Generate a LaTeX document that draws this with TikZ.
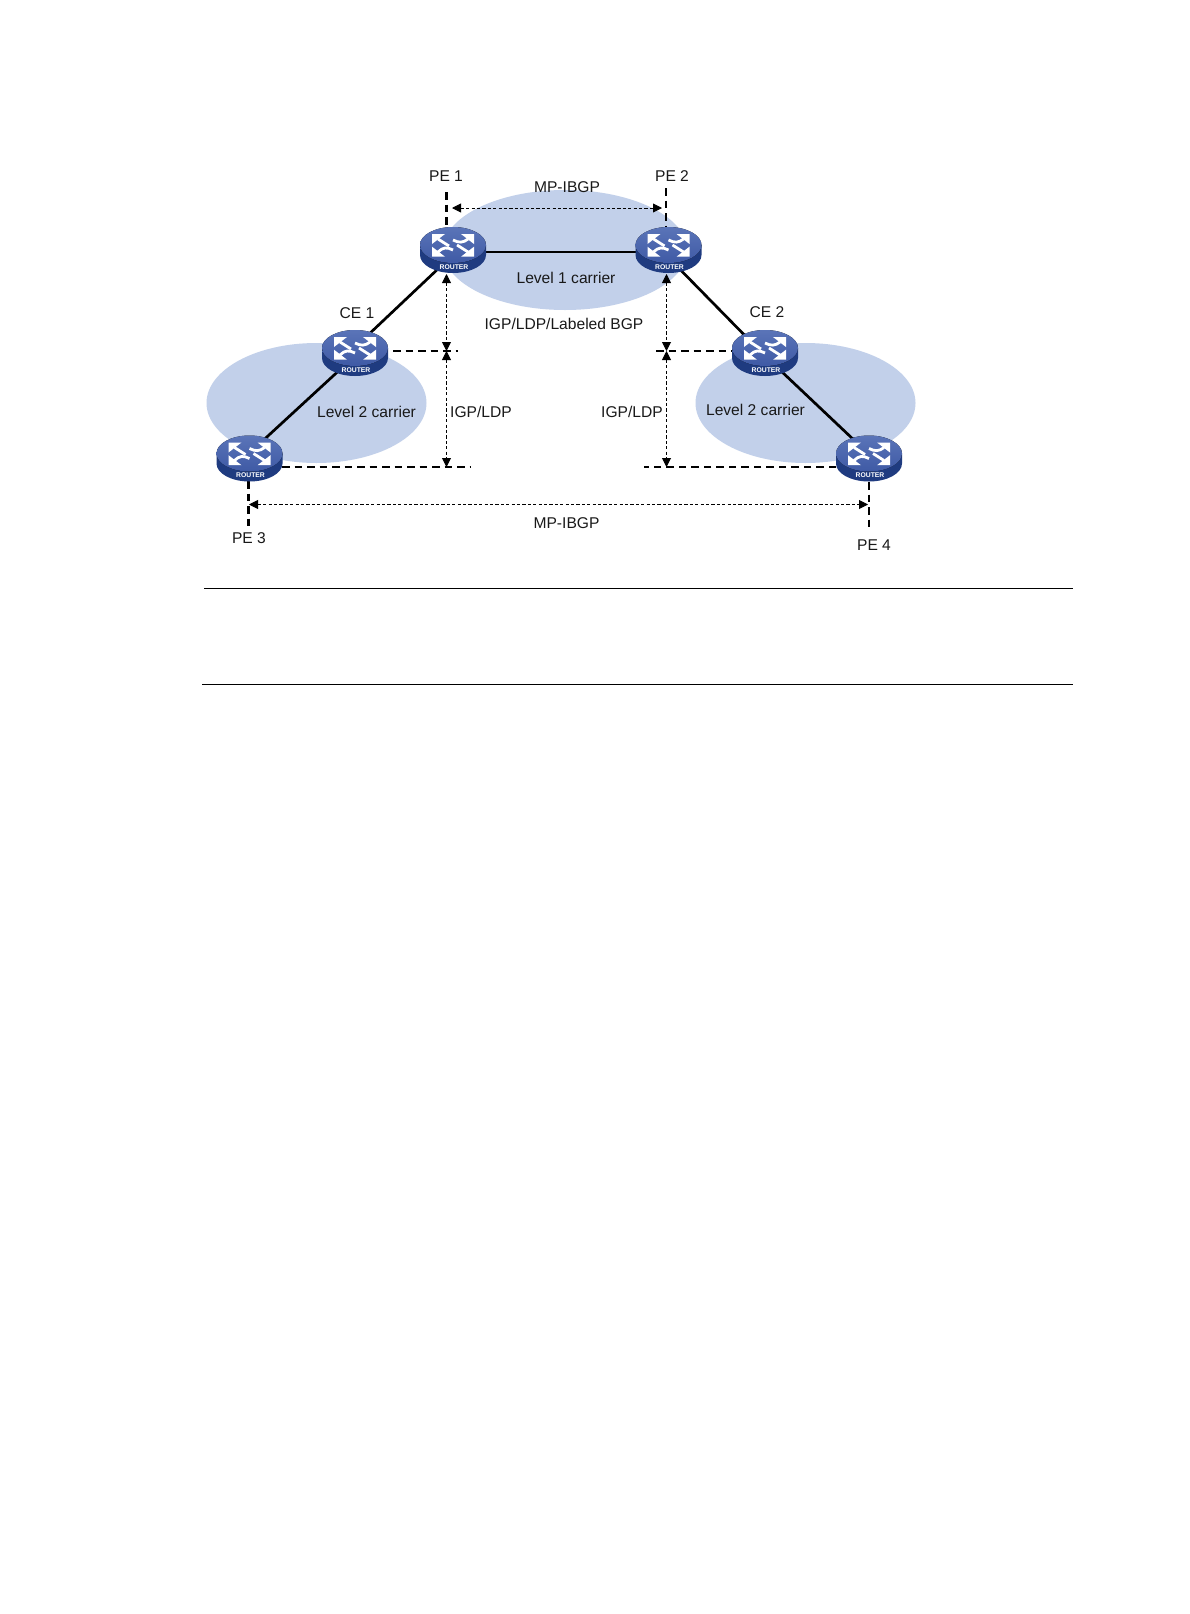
\documentclass[tikz,border=0pt]{standalone}
\usepackage{fontspec}
\setmainfont{Liberation Sans}
\usetikzlibrary{arrows.meta}
\definecolor{carrier}{HTML}{C2D0EA}
\definecolor{rdark}{HTML}{1F3B80}
\definecolor{rtop}{HTML}{3F5AA5}
\definecolor{rtopl}{HTML}{5A74B8}
\tikzset{x=1pt,y=-1pt,
 carrierarea/.style={fill=carrier,draw=none},
 anchorbox/.style={inner sep=0pt,minimum width=66pt,minimum height=46pt},
 lab/.style={inner sep=0pt,font=\fontsize{15.6}{18}\selectfont,text=black!90},
 link/.style={line width=2.7pt,black},
 bound/.style={line width=2.4pt,black,dash pattern=on 7.5pt off 5pt},
 session/.style={line width=0.9pt,black,dash pattern=on 3.2pt off 2.2pt,{Triangle[length=9pt,width=9pt]}-{Triangle[length=9pt,width=9pt]}},
 rule/.style={line width=0.9pt,black},
 glyphtail/.style={white,line width=2.8pt},
 router/.pic={
  \fill[rdark] (-33,-5) -- (-33,5) arc[start angle=180,end angle=0,x radius=33,y radius=18] -- (33,-5) -- cycle;
  \fill[top color=rtopl,bottom color=rtop,draw=none] (0,-5) ellipse[x radius=33,y radius=18];
  \fill[white] (-21,-16) -- (-8,-16) -- (-21,-6) -- cycle;
  \fill[white] (21,-16) -- (8,-16) -- (21,-6) -- cycle;
  \fill[white] (-21,6.7) -- (-8,6.7) -- (-21,-3.3) -- cycle;
  \fill[white] (21,6.7) -- (8,6.7) -- (21,-3.3) -- cycle;
  \draw[glyphtail] (-15,-11) -- (-4,-4);
  \draw[glyphtail] (15,2) -- (4,-5);
  \draw[glyphtail] (15,-11) .. controls (10,-7) and (6,-7) .. (0,-10);
  \draw[glyphtail] (-15,2) .. controls (-10,-3) and (-6,-3) .. (0,0);
  \node[inner sep=0pt,text=white,font=\fontsize{6.8}{7}\selectfont\bfseries] at (1,17) {ROUTER};
 }
}
\begin{document}
\begin{tikzpicture}
\useasboundingbox (0,0) rectangle (1190,1614);
\fill[white] (0,0) rectangle (1190,1614);
% carrier areas
\fill[carrierarea] (565,250) ellipse[x radius=122,y radius=60];
\fill[carrierarea] (316.5,403) ellipse[x radius=110,y radius=60];
\fill[carrierarea] (805.5,403) ellipse[x radius=110,y radius=60];
% router positions
\node[anchorbox] (pe1) at (453,250) {};
\node[anchorbox] (pe2) at (668.5,250) {};
\node[anchorbox] (ce1) at (355,353) {};
\node[anchorbox] (ce2) at (765,353) {};
\node[anchorbox] (pe3) at (249.5,458.5) {};
\node[anchorbox] (pe4) at (869,458.5) {};
% free ends
\coordinate (t1) at (446.5,192);
\coordinate (b1) at (446.5,227);
\coordinate (t2) at (666,188);
\coordinate (b2) at (666,228);
\coordinate (c1a) at (393,351);
\coordinate (c1b) at (458,351);
\coordinate (c2a) at (656,351);
\coordinate (c2b) at (732,351);
\coordinate (p3a) at (282,467);
\coordinate (p3b) at (470,467);
\coordinate (p4a) at (644,467);
\coordinate (p4b) at (836,467);
\coordinate (v3a) at (248.5,481);
\coordinate (v3b) at (248.5,527);
\coordinate (v4a) at (869,482);
\coordinate (v4b) at (869,527);
\coordinate (m1a) at (452,208);
\coordinate (m1b) at (662,208);
\coordinate (m2a) at (249,504.5);
\coordinate (m2b) at (868,504.5);
\coordinate (l1) at (446.5,274);
\coordinate (l2) at (446.5,351);
\coordinate (l3) at (446.5,467);
\coordinate (r1) at (666.5,274);
\coordinate (r2) at (666.5,351);
\coordinate (r3) at (666.5,467);
% links
\draw[link] ([yshift=-2pt]pe1.center) -- ([yshift=-2pt]pe2.center);
\draw[link] ([xshift=5pt]pe1.center) -- ([xshift=-6pt]ce1.center);
\draw[link] ([xshift=3pt]ce1.center) -- ([xshift=-6pt]pe3.center);
\draw[link] ([xshift=-7.5pt]pe2.center) -- ([xshift=-3pt]ce2.center);
\draw[link] ([xshift=-3pt]ce2.center) -- ([xshift=4.5pt]pe4.center);
% dashed boundaries
\draw[bound] (t1) -- (b1);
\draw[bound] (t2) -- (b2);
\draw[bound] (c1a) -- (c1b);
\draw[bound] (c2a) -- (c2b);
\draw[bound] (p3a) -- (p3b);
\draw[bound] (p4b) -- (p4a);
\draw[bound] (v3a) -- (v3b);
\draw[bound] (v4a) -- (v4b);
% sessions
\draw[session] (m1a) -- (m1b);
\draw[session] (m2a) -- (m2b);
\draw[session] (l1) -- (l2);
\draw[session] (l2) -- (l3);
\draw[session] (r1) -- (r2);
\draw[session] (r2) -- (r3);
% routers
\pic at (pe1) {router};
\pic at (pe2) {router};
\pic at (ce1) {router};
\pic at (ce2) {router};
\pic at (pe3) {router};
\pic at (pe4) {router};
% labels
\node[lab] (tpe1) at (446,176) {PE 1};
\node[lab] (tpe2) at (672,176) {PE 2};
\node[lab] (tm1) at (567,187) {MP-IBGP};
\node[lab] (tl1) at (566,278) {Level 1 carrier};
\node[lab] (tib) at (564,324) {IGP/LDP/Labeled BGP};
\node[lab] (tce1) at (357,313) {CE 1};
\node[lab] (tce2) at (767,312) {CE 2};
\node[lab] (tl2a) at (366.5,412) {Level 2 carrier};
\node[lab] (tl2b) at (755.5,410) {Level 2 carrier};
\node[lab] (til) at (481,412) {IGP/LDP};
\node[lab] (tir) at (632,412) {IGP/LDP};
\node[lab] (tpe3) at (249,538) {PE 3};
\node[lab] (tm2) at (566.5,523) {MP-IBGP};
\node[lab] (tpe4) at (874,545) {PE 4};
% rules
\coordinate (ra) at (204,588); \coordinate (rb) at (1073,588);
\coordinate (rc) at (202,684); \coordinate (rd) at (1073,684);
\draw[rule] (ra) -- (rb);
\draw[rule] (rc) -- (rd);
\end{tikzpicture}
\end{document}
